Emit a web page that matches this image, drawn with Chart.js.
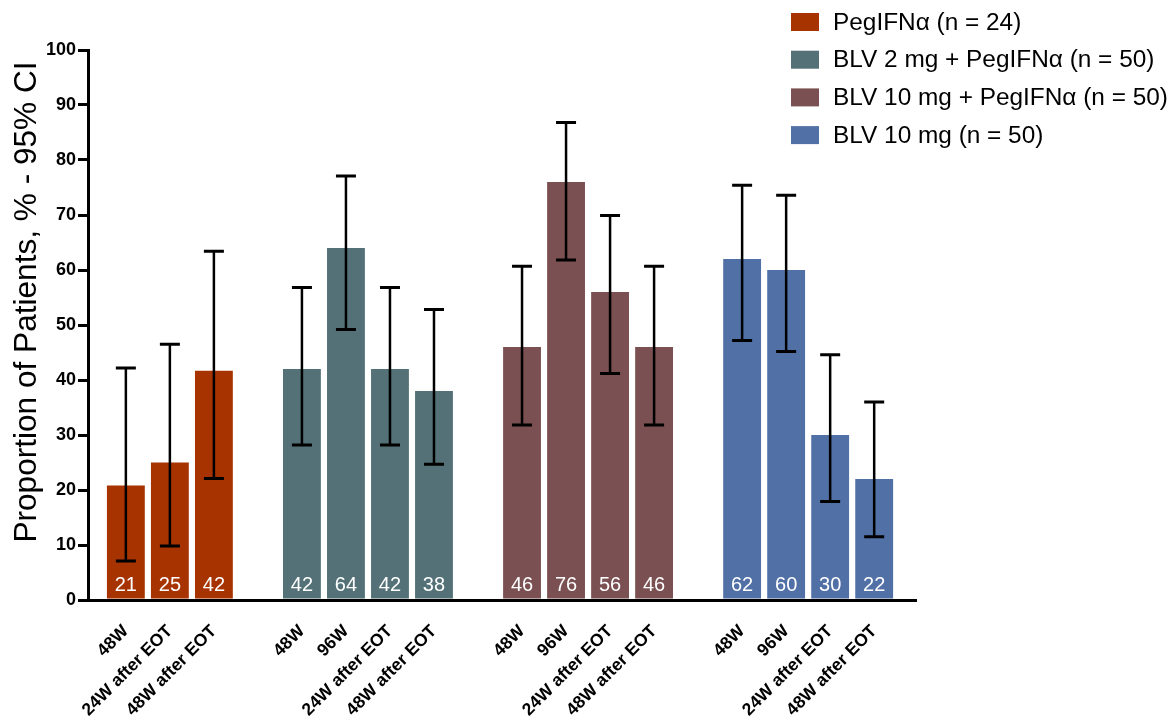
<!DOCTYPE html>
<html>
<head>
<meta charset="utf-8">
<script src="https://cdn.jsdelivr.net/npm/chart.js@4.4.1/dist/chart.umd.min.js"></script>
<style>
	html, body { margin: 0; padding: 0; background: #fff; }
</style>
</head>
<body>
<canvas id="barChart" width="1176" height="722"></canvas>
<script>
// groups (treatment arms)
const groupNames = ['PegIFNα (n = 24)', 'BLV 2 mg + PegIFNα (n = 50)', 'BLV 10 mg + PegIFNα (n = 50)', 'BLV 10 mg (n = 50)'];
const groupColors = ['#a63300', '#537177', '#7a5052', '#5070a6'];

// timepoints per group
const timepoints = [
	['48W', '24W after EOT', '48W after EOT'],
	['48W', '96W', '24W after EOT', '48W after EOT'],
	['48W', '96W', '24W after EOT', '48W after EOT'],
	['48W', '96W', '24W after EOT', '48W after EOT']
];

// proportion of patients (%)
const values = [
	[20.8, 25, 41.7],
	[42, 64, 42, 38],
	[46, 76, 56, 46],
	[62, 60, 30, 22]
];

// 95% CI
const ciLow = [
	[7.1, 9.8, 22.1],
	[28.2, 49.2, 28.2, 24.7],
	[31.8, 61.8, 41.2, 31.8],
	[47.2, 45.2, 17.9, 11.5]
];
const ciHigh = [
	[42.2, 46.5, 63.4],
	[56.8, 77.1, 56.8, 52.8],
	[60.7, 86.8, 69.9, 60.7],
	[75.4, 73.6, 44.6, 36.0]
];

const yTicks = [0, 10, 20, 30, 40, 50, 60, 70, 80, 90, 100];
const yTitle = 'Proportion of Patients, % - 95% CI';

const FONT = 'Liberation Sans, Arial, sans-serif';

// slot index on the x axis, one empty slot between groups
var positions = [];
var labelAt = {};
var slot = 0;
var datasets = groupNames.map(function(name, g) {
	var pts = values[g].map(function(v, i) {
		positions.push(slot);
		labelAt[slot] = timepoints[g][i];
		return { x: slot++, y: v };
	});
	slot++;
	return {
		label: name,
		data: pts,
		lo: ciLow[g],
		hi: ciHigh[g],
		backgroundColor: groupColors[g],
		borderWidth: 0,
		barPercentage: 0.86,
		categoryPercentage: 1
	};
});

// error bars + white value labels
const errorBars = {
	id: 'errorBars',
	afterDatasetsDraw(chart) {
		const ctx = chart.ctx;
		const y = chart.scales.y;
		chart.data.datasets.forEach(function(ds, i) {
			chart.getDatasetMeta(i).data.forEach(function(bar, j) {
				const x = bar.x;
				const top = y.getPixelForValue(ds.hi[j]);
				const bot = y.getPixelForValue(ds.lo[j]);
				ctx.save();
				ctx.strokeStyle = '#000';
				ctx.lineWidth = 2.5;
				ctx.beginPath();
				ctx.moveTo(x, top);
				ctx.lineTo(x, bot);
				ctx.stroke();
				ctx.lineWidth = 3;
				ctx.beginPath();
				ctx.moveTo(x - 10, top); ctx.lineTo(x + 10, top);
				ctx.moveTo(x - 10, bot); ctx.lineTo(x + 10, bot);
				ctx.stroke();
				ctx.fillStyle = '#fff';
				ctx.font = '20px ' + FONT;
				ctx.textAlign = 'center';
				ctx.textBaseline = 'alphabetic';
				ctx.fillText(Math.round(ds.data[j].y), x, y.getPixelForValue(0) - 9);
				ctx.restore();
			});
		});
	}
};

// legend top right + y axis title
const sideLegend = {
	id: 'sideLegend',
	afterDraw(chart) {
		const ctx = chart.ctx;
		ctx.save();
		chart.data.datasets.forEach(function(ds, i) {
			const cy = 22 + i * 37.7;
			ctx.fillStyle = ds.backgroundColor;
			ctx.fillRect(791, cy - 9, 28, 18);
			ctx.fillStyle = '#000';
			ctx.font = '24.4px ' + FONT;
			ctx.textAlign = 'left';
			ctx.textBaseline = 'middle';
			ctx.fillText(ds.label, 833, cy + 1);
		});
		ctx.translate(36, 302);
		ctx.rotate(-Math.PI / 2);
		ctx.font = '31.6px ' + FONT;
		ctx.textAlign = 'center';
		ctx.textBaseline = 'alphabetic';
		ctx.fillText(yTitle, 0, 0);
		ctx.restore();
	}
};

window.onload = function() {
	var ctx = document.getElementById('barChart').getContext('2d');
	new Chart(ctx, {
		type: 'bar',
		data: { datasets: datasets },
		plugins: [errorBars, sideLegend],
		options: {
			responsive: false,
			animation: false,
			grouped: false,
			layout: { padding: { top: 50, right: 260, left: 0, bottom: 0 } },
			plugins: {
				legend: { display: false },
				tooltip: { enabled: false }
			},
			scales: {
				x: {
					type: 'linear',
					offset: false,
					min: -0.86,
					max: 17.95,
					grid: { display: false },
					border: { display: true, color: '#000', width: 3 },
					afterBuildTicks: function(s) {
						s.ticks = positions.map(function(v) { return { value: v }; });
					},
					afterFit: function(s) { s.height = 122; },
					ticks: {
						autoSkip: false,
						minRotation: 45,
						maxRotation: 45,
						padding: 13,
						color: '#000',
						font: { family: FONT, size: 17.5, weight: 'bold' },
						callback: function(v) { return labelAt[v] || ''; }
					}
				},
				y: {
					min: 0,
					max: 100,
					afterBuildTicks: function(s) {
						s.ticks = yTicks.map(function(v) { return { value: v }; });
					},
					afterFit: function(s) { s.width = 88; },
					grid: { drawOnChartArea: false, drawTicks: true, tickLength: 10, color: '#000', lineWidth: 3 },
					border: { display: true, color: '#000', width: 3 },
					ticks: {
						padding: 2,
						color: '#000',
						font: { family: FONT, size: 18, weight: 'bold' }
					}
				}
			}
		}
	});
}
</script>
</body>
</html>
